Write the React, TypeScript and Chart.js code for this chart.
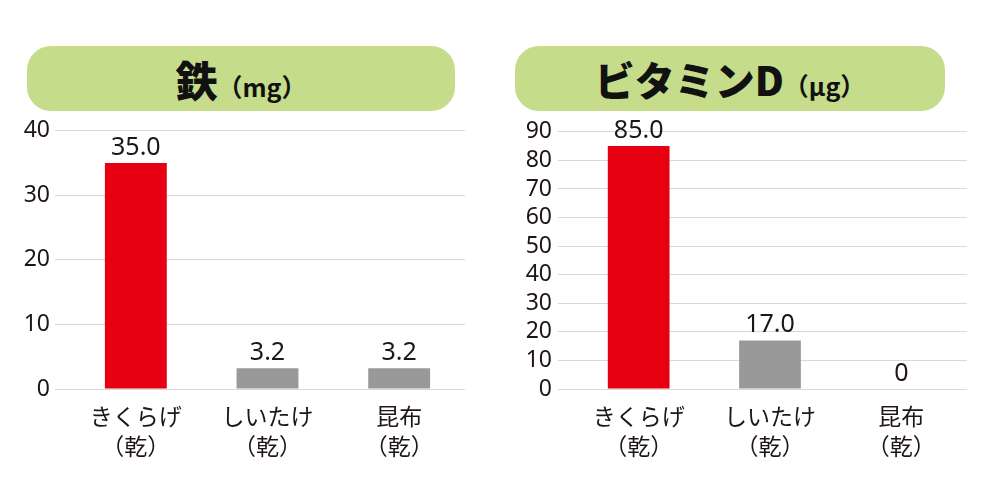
import React, { useEffect, useRef } from "react";
import { Chart, registerables } from "chart.js";

Chart.register(...registerables);

// ---- data ----
const categories: string[][] = [
  ["きくらげ", "（乾）"],
  ["しいたけ", "（乾）"],
  ["昆布", "（乾）"],
];
const ironValues: number[] = [35.0, 3.2, 3.2];
const vitaminDValues: number[] = [85.0, 17.0, 0];
const barColors: string[] = ["#e60012", "#999999", "#999999"];
const ironTitle = "鉄";
const ironUnit = "（mg）";
const vitaminDTitle = "ビタミンD";
const vitaminDUnit = "（μg）";
const ironMax = 40;
const vitaminDMax = 90;
const tickStep = 10;

const TEXT = "#1e1614";
const GRID = "#d9d9d9";
const GREEN = "#c5dc8a";

const valueLabelPlugin = {
  id: "valueLabels",
  afterDatasetsDraw(chart: any) {
    const ctx = chart.ctx;
    const ds = chart.data.datasets[0];
    const meta = chart.getDatasetMeta(0);
    ctx.save();
    ctx.font = "25px 'Noto Sans', sans-serif";
    ctx.fillStyle = TEXT;
    ctx.textAlign = "center";
    ctx.textBaseline = "alphabetic";
    meta.data.forEach((bar: any, i: number) => {
      const v = ds.data[i] as number;
      const txt = v === 0 ? "0" : v.toFixed(1);
      ctx.fillText(txt, bar.x, bar.y - 8);
    });
    ctx.restore();
  },
};

type PanelProps = {
  values: number[];
  max: number;
  canvasLeft: number;
  canvasWidth: number;
  axisWidth: number;
  rightPad: number;
  tickPad: number;
};

const CANVAS_TOP = 112;
const CANVAS_H = 368;

function BarPanel(p: PanelProps) {
  const ref = useRef<HTMLCanvasElement | null>(null);
  useEffect(() => {
    if (!ref.current) return;
    const chart = new Chart(ref.current, {
      type: "bar",
      data: {
        labels: categories,
        datasets: [
          {
            data: p.values,
            backgroundColor: barColors,
            borderWidth: 0,
            barPercentage: 0.47,
            categoryPercentage: 1.0,
          },
        ],
      },
      options: {
        responsive: false,
        animation: false,
        layout: { padding: { top: 17, right: p.rightPad, bottom: 0, left: 0 } },
        plugins: {
          legend: { display: false },
          title: { display: false },
          tooltip: { enabled: false },
        },
        scales: {
          x: {
            grid: { display: false },
            border: { display: false },
            ticks: {
              color: TEXT,
              padding: 5,
              font: { family: "'Noto Sans CJK JP', sans-serif", size: 23, lineHeight: 1.27 },
              maxRotation: 0,
              autoSkip: false,
            },
            afterFit: (s: any) => {
              s.height = CANVAS_H - 277;
            },
          },
          y: {
            min: 0,
            max: p.max,
            grid: { color: GRID, lineWidth: 1, tickLength: 15, drawTicks: true },
            border: { display: false },
            ticks: {
              stepSize: tickStep,
              autoSkip: false,
              color: TEXT,
              padding: p.tickPad,
              font: { family: "'Noto Sans', sans-serif", size: 23 },
            },
            afterFit: (s: any) => {
              s.width = p.axisWidth;
            },
          },
        },
      },
      plugins: [valueLabelPlugin],
    });
    return () => chart.destroy();
  }, []);
  return (
    <canvas
      ref={ref}
      width={p.canvasWidth}
      height={CANVAS_H}
      style={{
        position: "absolute",
        left: p.canvasLeft,
        top: CANVAS_TOP,
        width: p.canvasWidth,
        height: CANVAS_H,
        display: "block",
      }}
    />
  );
}

function TitleBox(props: { left: number; width: number; title: string; unit: string; size: number }) {
  return (
    <div
      style={{
        position: "absolute",
        left: props.left,
        top: 46,
        width: props.width,
        height: 65,
        borderRadius: 24,
        background: GREEN,
        display: "flex",
        alignItems: "center",
        justifyContent: "center",
        fontFamily: "'Noto Sans CJK JP', sans-serif",
        color: "#111",
        fontWeight: 900,
      }}
    >
      <span style={{ display: "inline-flex", alignItems: "baseline" }}>
        <span style={{ fontSize: props.size, lineHeight: 1 }}>{props.title}</span>
        <span style={{ fontSize: 25, lineHeight: 1, fontWeight: 700 }}>{props.unit}</span>
      </span>
    </div>
  );
}

export default function App() {
  return (
    <div
      style={{
        position: "absolute",
        left: 0,
        top: 0,
        width: 1000,
        height: 480,
        background: "#fff",
        overflow: "hidden",
      }}
    >
      <TitleBox left={27} width={428} title={ironTitle} unit={ironUnit} size={42} />
      <TitleBox left={515} width={430} title={vitaminDTitle} unit={vitaminDUnit} size={40} />
      <BarPanel
        values={ironValues}
        max={ironMax}
        canvasLeft={0}
        canvasWidth={490}
        axisWidth={70}
        rightPad={25}
        tickPad={5}
      />
      <BarPanel
        values={vitaminDValues}
        max={vitaminDMax}
        canvasLeft={490}
        canvasWidth={510}
        axisWidth={83}
        rightPad={33}
        tickPad={6}
      />
    </div>
  );
}
